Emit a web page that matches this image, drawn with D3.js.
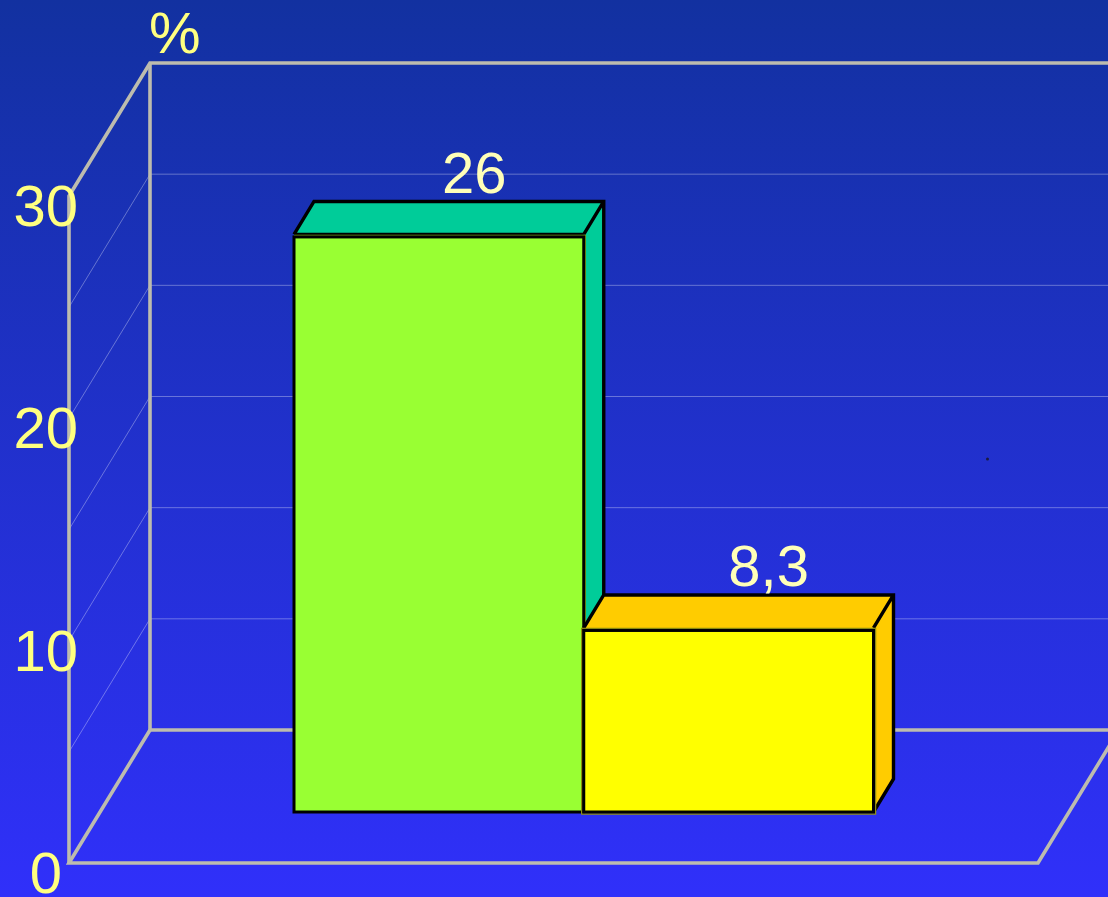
<!DOCTYPE html>
<html><head><meta charset="utf-8">
<script src="https://cdn.jsdelivr.net/npm/d3@7"></script>
<style>html,body{margin:0;padding:0;background:#2f30f8;overflow:hidden}svg{display:block}text{font-family:"Liberation Sans",Arial,sans-serif}</style>
</head><body><svg id="c" width="1108" height="897"></svg>
<script>
const categories = ["A", "B"];
const values = [26, 8.3];
const valueLabels = ["26", "8,3"];
const gridTicks = [5, 10, 15, 20, 25];
const labelTicks = [0, 10, 20, 30];
const frontColors = ["#99ff33", "#ffff00"];
const sideColors = ["#00cc99", "#ffcc00"];

const svg = d3.select("#c");
const W = 1108, H = 897;
const grad = svg.append("defs").append("linearGradient").attr("id", "bg").attr("x1", 0).attr("x2", 0).attr("y1", 0).attr("y2", 1);
grad.append("stop").attr("offset", "0%").attr("stop-color", "#1231a0");
grad.append("stop").attr("offset", "100%").attr("stop-color", "#3030fa");
svg.append("rect").attr("width", W).attr("height", H).attr("fill", "url(#bg)");

// box geometry
const left = 69, floorFront = 863, depthX = 81, depthY = 133, frontRight = 1038;
const y = d3.scaleLinear().domain([0, 30]).range([floorFront, 196]);
const x = d3.scaleBand().domain(categories).range([294, 873.5]).padding(0);
const barBase = 812, barDx = 20, barDy = 33;
const span = y(0) - y(1);
const barTop = v => barBase - v * span + 3;

const wall = "#bdbcae";
svg.append("g").selectAll("path").data(gridTicks).join("path")
  .attr("fill", "none").attr("stroke", "#ffffff").attr("stroke-opacity", 0.33).attr("stroke-width", 1)
  .attr("d", v => `M${left},${y(v)}L${left + depthX},${y(v) - depthY}L${W},${y(v) - depthY}`);

const lines = [
  [[left, y(0)], [left, y(30)], [left + depthX, y(30) - depthY], [W, y(30) - depthY]],
  [[left + depthX, y(30) - depthY], [left + depthX, y(0) - depthY], [W, y(0) - depthY]],
  [[left + depthX, y(0) - depthY], [left, y(0)], [frontRight, y(0)], [frontRight + depthX, y(0) - depthY]]
];
svg.append("g").selectAll("path").data(lines).join("path")
  .attr("d", d3.line()).attr("fill", "none").attr("stroke", wall).attr("stroke-width", 3.6).attr("stroke-linejoin", "miter");

// bars
const rows = categories.map((c, i) => ({ c, i, v: values[i], label: valueLabels[i], front: frontColors[i], side: sideColors[i] }));
const bars = svg.append("g").selectAll("g").data(rows).join("g");
const ink = { stroke: "#000", "stroke-width": 3.4, "stroke-linejoin": "miter" };
function apply(sel, o) { Object.entries(o).forEach(([k, v]) => sel.attr(k, v)); return sel; }
const x0 = d => x(d.c), x1 = d => x(d.c) + x.bandwidth(), edge = d => barTop(d.v) - 2.5;

// side and top faces
bars.append("path").attr("stroke", "none").attr("fill", d => d.side).attr("d", d =>
  `M${x0(d)},${edge(d)}L${x0(d) + barDx},${edge(d) - barDy}L${x1(d) + barDx},${edge(d) - barDy}L${x1(d) + barDx},${barBase - barDy}L${x1(d)},${barBase}L${x1(d)},${edge(d)}Z`);
apply(bars.append("path"), ink).attr("fill", "none").attr("d", d =>
  `M${x0(d)},${edge(d)}L${x0(d) + barDx},${edge(d) - barDy}L${x1(d) + barDx},${edge(d) - barDy}L${x1(d) + barDx},${barBase - barDy}L${x1(d)},${barBase}` +
  `M${x1(d)},${edge(d)}L${x1(d) + barDx},${edge(d) - barDy}` + (d.i === 0 ? `M${x0(d)},${edge(d)}L${x1(d)},${edge(d)}` : ""));

// thin olive rim around the front face
bars.append("path").attr("fill", "none").attr("stroke-width", 1.5)
  .attr("stroke", d => d.i ? "#8f8f10" : "#7aa81e")
  .attr("d", d => d.i
    ? `M${x0(d) - 2},${barTop(d.v) - 2}H${x1(d) + 2}V${barBase + 2}H${x0(d) - 2}Z`
    : `M${x0(d)},${barTop(d.v) - 1.5}H${x1(d) + 1.5}V${barBase}`);

// front faces
apply(bars.append("rect"), ink).attr("stroke-width", 3).attr("x", x0).attr("y", d => barTop(d.v))
  .attr("width", x.bandwidth()).attr("height", d => barBase - barTop(d.v)).attr("fill", d => d.front);

// value labels
bars.append("text").attr("x", d => (x0(d) + x1(d)) / 2 + (d.i ? 40 : 35.5))
  .attr("y", d => barTop(d.v) - 44).attr("text-anchor", "middle")
  .attr("font-size", 58).attr("fill", "#ffffb8").text(d => d.label);

// axis labels
svg.append("g").selectAll("text").data(labelTicks).join("text")
  .attr("x", v => v === 0 ? 62 : 78).attr("y", v => y(v) + 30).attr("text-anchor", "end")
  .attr("font-size", 58).attr("fill", "#ffff80").text(d => d);
svg.append("text").attr("x", 149).attr("y", 53).attr("font-size", 58).attr("fill", "#ffff80").text("%");

// stray speck in the source image
svg.append("circle").attr("cx", 987.5).attr("cy", 459).attr("r", 1.5).attr("fill", "#1a1a40");
</script></body></html>
